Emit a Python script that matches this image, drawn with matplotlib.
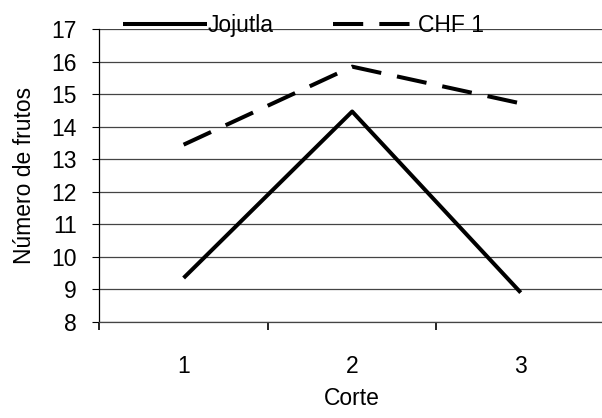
import numpy as np
import matplotlib
matplotlib.use("Agg")
import matplotlib.pyplot as plt

# data
cortes = ["1", "2", "3"]
jojutla = [9.35, 14.47, 8.9]
chf1 = [13.45, 15.85, 14.72]
y_ticks = list(range(8, 18))

plt.rcParams["font.family"] = ["Liberation Sans", "DejaVu Sans"]
fs = 16.5

fig = plt.figure(figsize=(6.02, 4.18), dpi=100)
ax = fig.add_axes([0.165, 0.23, 0.84, 0.70])

x = np.arange(1, len(cortes) + 1)
ax.plot(x, jojutla, color="black", linewidth=2.9, label="Jojutla",
        solid_capstyle="butt")
ax.plot(x, chf1, color="black", linewidth=2.9, label="CHF 1",
        dashes=(7.5, 4.0), dash_capstyle="butt")

ax.set_xlim(0.5, 3.5)
ax.set_ylim(8, 17)
ax.set_yticks(y_ticks)
ax.set_xticks(x)
ax.set_xticklabels(cortes)
ax.set_xticks([0.5, 1.5, 2.5], minor=True)
ax.tick_params(axis="x", which="major", length=0, pad=24, labelsize=fs)
ax.tick_params(axis="x", which="minor", length=6, width=1.2, direction="out")
ax.tick_params(axis="y", length=5, width=0.8, labelsize=fs, pad=11)

ax.grid(axis="y", color="#444444", linewidth=0.9)
ax.set_axisbelow(True)
for side in ["top", "right"]:
    ax.spines[side].set_visible(False)
ax.spines["left"].set_linewidth(0.9)
ax.spines["bottom"].set_color("#444444")
ax.spines["bottom"].set_linewidth(0.9)

ax.set_xlabel("Corte", fontsize=fs, labelpad=6)
ax.set_ylabel("Número de frutos", fontsize=fs, labelpad=11)

ax.legend(loc="lower left", bbox_to_anchor=(0.046, 0.975), ncol=2,
          frameon=False, fontsize=fs, handlelength=3.7, handletextpad=0.0,
          columnspacing=2.6, borderaxespad=0.0, borderpad=0.0)

fig.savefig("out.png", dpi=100)
